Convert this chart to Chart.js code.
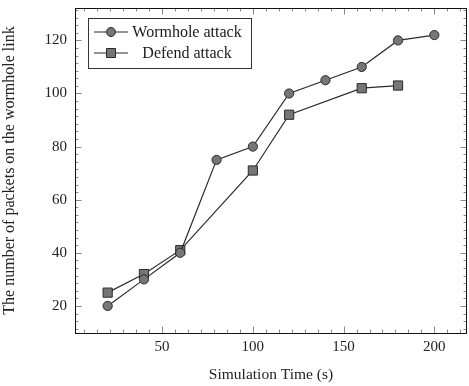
<!DOCTYPE html>
<html>
<head>
<meta charset="utf-8">
<script src="https://cdn.jsdelivr.net/npm/chart.js@4"></script>
<style>
  html, body { margin: 0; padding: 0; background: #fff; overflow: hidden; }
  #box { width: 469px; height: 386px; }
</style>
</head>
<body>
<div id="box"><canvas id="grafico"></canvas></div>
<script>
// data
const tempos = [20, 40, 60, 80, 100, 120, 140, 160, 180, 200];
const wormhole = [20, 30, 40, 75, 80, 100, 105, 110, 120, 122];
const tempoDefesa = [20, 40, 60, 100, 120, 160, 180];
const defesa = [25, 32, 41, 71, 92, 102, 103];
const xTicks = [50, 100, 150, 200];
const yTicks = [20, 40, 60, 80, 100, 120];

const fonte = "'Liberation Serif', 'DejaVu Serif', serif";
const markFill = '#767676';
const markLine = '#2b2b2b';

// pgfplots-style ticks pointing inward on all four sides, plus frame
const molduraPlugin = {
  id: 'moldura',
  afterDatasetsDraw(chart) {
    const { ctx, chartArea: a, scales } = chart;
    ctx.save();
    ctx.strokeStyle = '#8a8a8a';
    ctx.lineWidth = 1;
    const marca = (scale, v, len) => {
      const p = Math.round(scale.getPixelForValue(v)) + 0.5;
      ctx.beginPath();
      if (scale.axis === 'x') {
        ctx.moveTo(p, a.bottom); ctx.lineTo(p, a.bottom - len);
        ctx.moveTo(p, a.top); ctx.lineTo(p, a.top + len);
      } else {
        ctx.moveTo(a.left, p); ctx.lineTo(a.left + len, p);
        ctx.moveTo(a.right, p); ctx.lineTo(a.right - len, p);
      }
      ctx.stroke();
    };
    [[scales.x, xTicks], [scales.y, yTicks]].forEach(([s, ticks]) => {
      const passo = (ticks[1] - ticks[0]) / 7;
      for (let v = ticks[0]; v > s.min; v -= passo) marca(s, v, 3.5);
      for (let v = ticks[0]; v < s.max; v += passo) marca(s, v, 3.5);
      ticks.forEach(v => marca(s, v, 6.5));
    });
    ctx.strokeStyle = '#111';
    ctx.strokeRect(a.left + 0.5, a.top + 0.5, a.right - a.left - 1, a.bottom - a.top);
    ctx.restore();
  }
};

// boxed legend in the upper-left corner of the plot
const legendaPlugin = {
  id: 'legendaCaixa',
  afterDraw(chart) {
    const { ctx, chartArea: a } = chart;
    const x0 = a.left + 13, y0 = a.top + 10, w = 163, h = 50;
    ctx.save();
    ctx.fillStyle = '#fff';
    ctx.fillRect(x0, y0, w, h);
    ctx.strokeStyle = '#333';
    ctx.lineWidth = 1;
    ctx.strokeRect(x0 + 0.5, y0 + 0.5, w, h);
    chart.data.datasets.forEach((ds, i) => {
      const cy = y0 + 14 + i * 21;
      ctx.strokeStyle = markLine;
      ctx.beginPath();
      ctx.moveTo(x0 + 6, cy); ctx.lineTo(x0 + 40, cy);
      ctx.stroke();
      ctx.fillStyle = markFill;
      ctx.beginPath();
      if (ds.pointStyle === 'rect') {
        ctx.rect(x0 + 18.5, cy - 4.5, 9, 9);
      } else {
        ctx.arc(x0 + 23, cy, 4.5, 0, Math.PI * 2);
      }
      ctx.fill();
      ctx.stroke();
      ctx.fillStyle = '#1a1a1a';
      ctx.font = '16px ' + fonte;
      ctx.textAlign = 'center';
      ctx.textBaseline = 'middle';
      ctx.fillText(ds.label, x0 + 99, cy + 1);
    });
    ctx.restore();
  }
};

const ctx = document.getElementById('grafico').getContext('2d');
const chart = new Chart(ctx, {
  type: 'line',
  data: {
    datasets: [{
      label: 'Wormhole attack',
      data: tempos.map((t, i) => ({ x: t, y: wormhole[i] })),
      borderColor: markLine,
      borderWidth: 1.2,
      pointStyle: 'circle',
      pointRadius: 4.6,
      pointBackgroundColor: markFill,
      pointBorderColor: markLine,
      pointBorderWidth: 1,
      tension: 0
    }, {
      label: 'Defend attack',
      data: tempoDefesa.map((t, i) => ({ x: t, y: defesa[i] })),
      borderColor: markLine,
      borderWidth: 1.2,
      pointStyle: 'rect',
      pointRadius: 6.5,
      pointBackgroundColor: markFill,
      pointBorderColor: markLine,
      pointBorderWidth: 1,
      tension: 0
    }]
  },
  options: {
    responsive: true,
    maintainAspectRatio: false,
    animation: false,
    layout: { autoPadding: false, padding: { top: 8, right: 2, left: 0, bottom: 0 } },
    plugins: { legend: { display: false }, tooltip: { enabled: false } },
    scales: {
      x: {
        type: 'linear',
        min: 2,
        max: 218,
        afterBuildTicks: s => { s.ticks = xTicks.map(v => ({ value: v })); },
        afterFit: s => { s.height = 53; s.paddingLeft = 0; s.paddingRight = 0; },
        grid: { display: false, drawTicks: false },
        border: { display: false },
        ticks: { color: '#222', font: { family: fonte, size: 15 }, padding: 5, maxRotation: 0 },
        title: {
          display: true,
          text: 'Simulation Time (s)',
          color: '#222',
          font: { family: fonte, size: 15.5 },
          padding: { top: 6, bottom: 2 }
        }
      },
      y: {
        type: 'linear',
        min: 9.8,
        max: 132.2,
        afterBuildTicks: s => { s.ticks = yTicks.map(v => ({ value: v })); },
        afterFit: s => { s.width = 75; s.paddingTop = 0; s.paddingBottom = 0; },
        grid: { display: false, drawTicks: false },
        border: { display: false },
        ticks: { color: '#222', font: { family: fonte, size: 15 }, padding: 8 },
        title: {
          display: true,
          text: 'The number of packets on the wormhole link',
          color: '#222',
          font: { family: fonte, size: 16 },
          padding: { top: 0, bottom: 0 }
        }
      }
    }
  },
  plugins: [molduraPlugin, legendaPlugin]
});
</script>
</body>
</html>
